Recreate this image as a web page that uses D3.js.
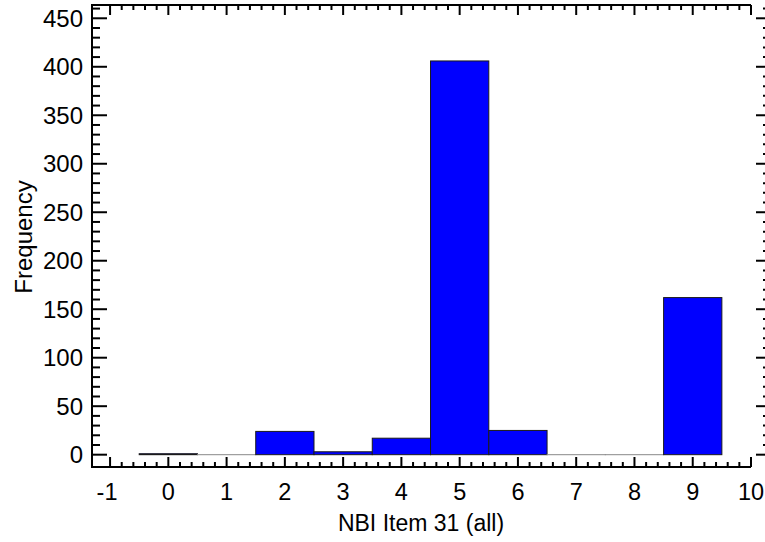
<!DOCTYPE html>
<html>
<head>
<meta charset="utf-8">
<script src="https://cdn.jsdelivr.net/npm/d3@7"></script>
<style>
  html, body { margin: 0; padding: 0; background: #fff; }
  svg { display: block; }
  text { font-family: "Liberation Sans", Arial, sans-serif; fill: #000; }
</style>
</head>
<body>
<script>
// Histogram of NBI Item 31 ratings
const categories = [0, 1, 2, 3, 4, 5, 6, 7, 8, 9];
const frequencies = [1, 0, 24, 3, 17, 406, 25, 0, 0, 162];
const xTickValues = [-1, 0, 1, 2, 3, 4, 5, 6, 7, 8, 9, 10];
const yTickValues = [0, 50, 100, 150, 200, 250, 300, 350, 400, 450];
const xLabel = "NBI Item 31 (all)";
const yLabel = "Frequency";

const W = 765, H = 542;
const plotLeft = 92, plotRight = 751, plotTop = 5, plotBottom = 467;

const svg = d3.select("body").append("svg").attr("width", W).attr("height", H);

const x = d3.scaleLinear().domain([-1.31, 10]).range([plotLeft, plotRight]);
const y = d3.scaleLinear().domain([-12.7, 463.7]).range([plotBottom, plotTop]);

// bars, one unit wide centred on each rating (empty bins still show a flat edge)
svg.append("g").selectAll("rect").data(categories).join("rect")
  .attr("x", d => x(d - 0.5))
  .attr("width", d => x(d + 0.5) - x(d - 0.5))
  .attr("y", (d, i) => y(frequencies[i]))
  .attr("height", (d, i) => Math.max(0.01, y(0) - y(frequencies[i])))
  .attr("fill", "#0000ff")
  .attr("stroke", (d, i) => frequencies[i] > 0 ? "#1a1a1a" : "#8a8a8a")
  .attr("stroke-width", 1);

const frame = svg.append("g").attr("stroke", "#000").attr("stroke-width", 2).attr("fill", "none");
frame.append("line").attr("x1", plotLeft).attr("x2", plotLeft).attr("y1", plotTop).attr("y2", plotBottom);
frame.append("line").attr("x1", plotLeft - 1).attr("x2", plotRight).attr("y1", plotBottom).attr("y2", plotBottom);
frame.append("line").attr("x1", plotLeft - 1).attr("x2", plotRight).attr("y1", plotTop).attr("y2", plotTop);

// minor tick values
const xMinor = d3.range(-1, 10.001, 0.2).filter(v => Math.abs(v - Math.round(v)) > 1e-6);
const yMinor = d3.range(0, 460.001, 10).filter(v => v % 50 !== 0);

const ticks = svg.append("g").attr("stroke", "#000").attr("stroke-width", 2);
// bottom and top x ticks, pointing inward
[[plotBottom, -1], [plotTop, 1]].forEach(([yy, dir]) => {
  ticks.append("g").selectAll("line").data(xTickValues).join("line")
    .attr("x1", d => x(d)).attr("x2", d => x(d))
    .attr("y1", yy).attr("y2", yy + dir * 10);
  ticks.append("g").selectAll("line").data(xMinor).join("line")
    .attr("x1", d => x(d)).attr("x2", d => x(d))
    .attr("y1", yy).attr("y2", yy + dir * 5);
});
// left and right y ticks, pointing inward
const rightAxisX = 771;
[[plotLeft, 1], [rightAxisX, -1]].forEach(([xx, dir]) => {
  ticks.append("g").selectAll("line").data(yTickValues).join("line")
    .attr("y1", d => y(d)).attr("y2", d => y(d))
    .attr("x1", xx).attr("x2", xx + dir * 15);
  ticks.append("g").selectAll("line").data(yMinor).join("line")
    .attr("y1", d => y(d)).attr("y2", d => y(d))
    .attr("x1", xx).attr("x2", xx + dir * 8);
});

// tick labels
svg.append("g").selectAll("text").data(xTickValues).join("text")
  .attr("x", d => x(d) - (d < 0 ? 3 : 0))
  .attr("y", 500)
  .attr("text-anchor", "middle")
  .attr("font-size", 23.5)
  .text(d => d < 0 ? "-" + Math.abs(d) : d);

svg.append("g").selectAll("text").data(yTickValues).join("text")
  .attr("x", 83)
  .attr("y", d => y(d))
  .attr("dy", "0.36em")
  .attr("text-anchor", "end")
  .attr("font-size", 24)
  .text(d => d);

svg.append("text")
  .attr("x", 421).attr("y", 531)
  .attr("text-anchor", "middle")
  .attr("font-size", 23)
  .text(xLabel);

svg.append("text")
  .attr("transform", "translate(32,237) rotate(-90)")
  .attr("text-anchor", "middle")
  .attr("font-size", 24)
  .text(yLabel);
</script>
</body>
</html>
